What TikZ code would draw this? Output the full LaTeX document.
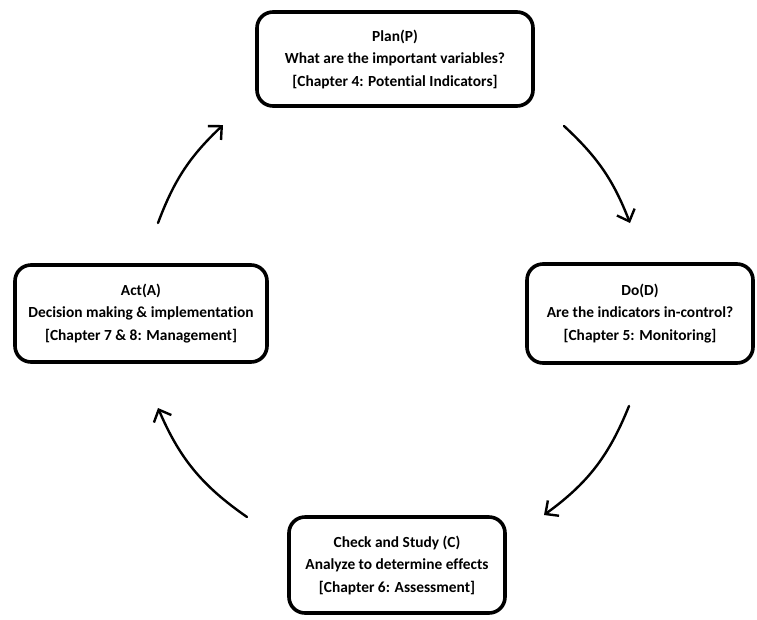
\documentclass[tikz,border=0pt]{standalone}
\usepackage{fontspec}
\setmainfont[Ligatures={NoCommon}]{Carlito}
\usetikzlibrary{arrows.meta}
\begin{document}
\begin{tikzpicture}[x=1pt,y=-1pt,
  pdcabox/.style={draw, line width=3.6pt, rounded corners=16pt, align=center,
    inner sep=0pt, font=\fontsize{15.4}{22.5}\selectfont\bfseries},
  cyc/.style={line width=2.4pt, line cap=round,
    -{Straight Barb[length=10pt,width=19pt,line width=2.4pt]}}]
\useasboundingbox (0,0) rectangle (757,619);
\node[pdcabox, minimum width=276pt, minimum height=94pt] (plan) at (395,59)
  {Plan(P)\\What are the important variables?\\{}[Chapter 4: Potential Indicators]};
\node[pdcabox, minimum width=226pt, minimum height=99pt] (do) at (640,313.5)
  {Do(D)\\Are the indicators in-control?\\{}[Chapter 5: Monitoring]};
\node[pdcabox, minimum width=252pt, minimum height=97pt] (act) at (141,313.5)
  {Act(A)\\Decision making \& implementation\\{}[Chapter 7 \& 8: Management]};
\node[pdcabox, minimum width=216pt, minimum height=96pt] (check) at (397,565)
  {Check and Study (C)\\Analyze to determine effects\\{}[Chapter 6: Assessment]};
\coordinate (a1s) at (564,126);
\coordinate (a1e) at (630,223);
\coordinate (a2s) at (629,406);
\coordinate (a2e) at (544,515);
\coordinate (a3s) at (247,517);
\coordinate (a3e) at (158,408);
\coordinate (a4s) at (158,223);
\coordinate (a4e) at (223,125);
\draw[cyc] (a1s) to[bend left=13] (a1e);
\draw[cyc] (a2s) to[bend left=16] (a2e);
\draw[cyc] (a3s) to[bend left=16] (a3e);
\draw[cyc] (a4s) to[bend left=13] (a4e);
\end{tikzpicture}
\end{document}
